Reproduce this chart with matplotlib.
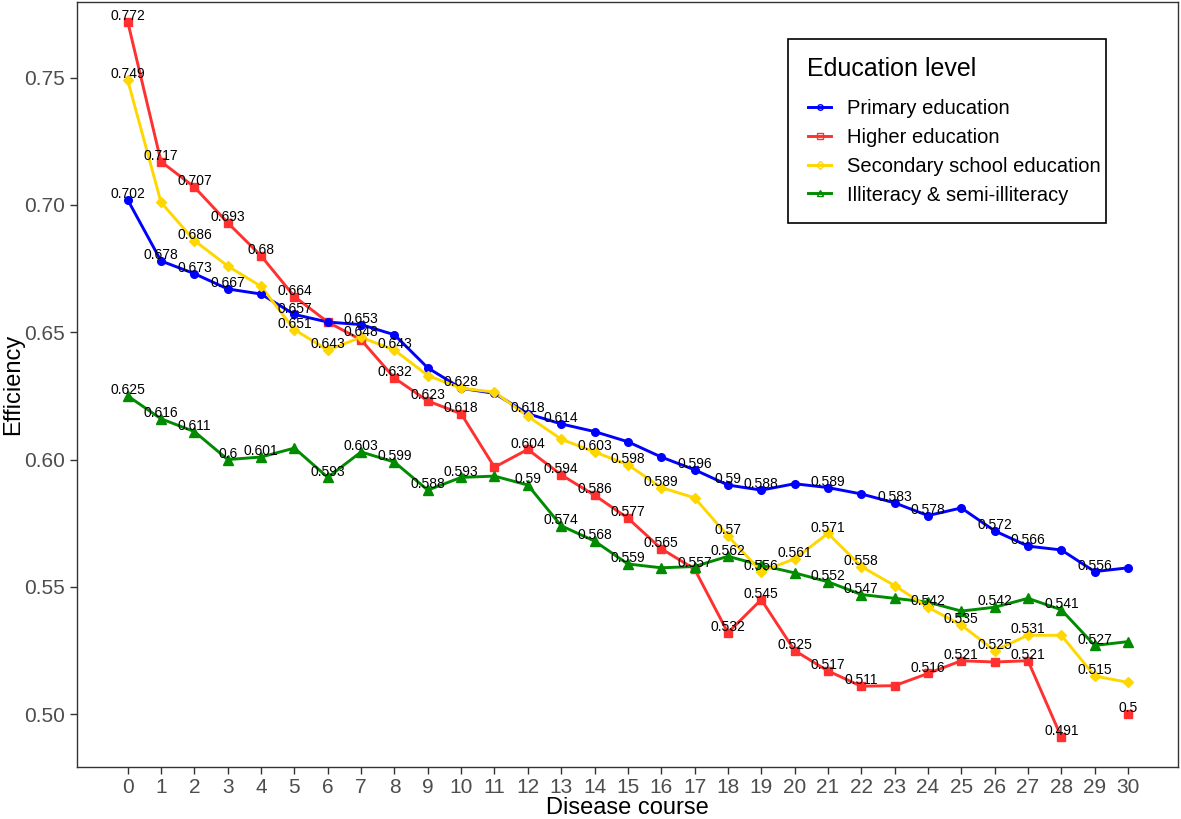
import numpy as np
import matplotlib
matplotlib.use("Agg")
import matplotlib.pyplot as plt
from matplotlib.lines import Line2D
from matplotlib.patches import Rectangle

plt.rcParams['font.family'] = ['Liberation Sans', 'DejaVu Sans']

# disease course 0..30
course = list(range(31))

primary = [0.702, 0.678, 0.673, 0.667, 0.665, 0.657, 0.654, 0.653, 0.649, 0.636,
           0.628, 0.626, 0.618, 0.614, 0.611, 0.607, 0.601, 0.596, 0.590, 0.588,
           0.5905, 0.589, 0.5865, 0.583, 0.578, 0.581, 0.572, 0.566, 0.5645, 0.556,
           0.5575]
higher = [0.772, 0.717, 0.707, 0.693, 0.680, 0.664, 0.654, 0.647, 0.632, 0.623,
          0.618, 0.597, 0.604, 0.594, 0.586, 0.577, 0.565, 0.557, 0.532, 0.545,
          0.525, 0.517, 0.511, 0.5112, 0.516, 0.521, 0.5205, 0.521, 0.491, np.nan,
          0.500]
secondary = [0.749, 0.701, 0.686, 0.676, 0.668, 0.651, 0.643, 0.648, 0.643, 0.633,
             0.628, 0.6265, 0.617, 0.608, 0.603, 0.598, 0.589, 0.585, 0.570, 0.556,
             0.561, 0.571, 0.558, 0.5505, 0.542, 0.535, 0.525, 0.531, 0.531, 0.515,
             0.5125]
illiteracy = [0.625, 0.616, 0.611, 0.600, 0.601, 0.6045, 0.593, 0.603, 0.599, 0.588,
              0.593, 0.5935, 0.590, 0.574, 0.568, 0.559, 0.5575, 0.558, 0.562, 0.5585,
              0.5555, 0.552, 0.547, 0.5455, 0.544, 0.5405, 0.542, 0.5455, 0.541, 0.527,
              0.5285]

# which points carry a value label
primary_lab = [0, 1, 2, 3, 5, 7, 10, 12, 13, 17, 18, 19, 21, 23, 24, 26, 27, 29]
higher_lab = [0, 1, 2, 3, 4, 5, 8, 9, 10, 12, 13, 14, 15, 16, 17, 18, 19, 20, 21,
              22, 24, 25, 27, 28, 30]
secondary_lab = [0, 2, 5, 6, 7, 8, 14, 15, 16, 18, 19, 20, 21, 22, 24, 25, 26, 27, 29]
illiteracy_lab = [0, 1, 2, 3, 4, 6, 7, 8, 9, 10, 12, 13, 14, 15, 18, 21, 22, 26, 28, 29]

names = ["Primary education", "Higher education", "Secondary school education",
         "Illiteracy & semi-illiteracy"]
colors = ["#0000FF", "#FF3030", "#FFD700", "#008B00"]
markers = ["o", "s", "D", "^"]
msizes = [5.5, 5.5, 5.5, 6.5]
series = [primary, higher, secondary, illiteracy]
labels = [primary_lab, higher_lab, secondary_lab, illiteracy_lab]

# ggplot draws groups in alphabetical order
draw_order = [1, 3, 0, 2]

fig = plt.figure(figsize=(11.81, 8.19), dpi=100)
ax = fig.add_axes([0.0652, 0.0639, 0.9323, 0.9337])

x = np.array(course)
for k in draw_order:
    ax.plot(x, series[k], color=colors[k], lw=2.1, zorder=2, solid_capstyle='butt')
for k in draw_order:
    ax.plot(x, series[k], ls='none', marker=markers[k], ms=msizes[k],
            color=colors[k], mec=colors[k], zorder=3)
for k in draw_order:
    for i in labels[k]:
        v = series[k][i]
        ax.annotate(f"{round(v, 3):g}", (x[i], v), xytext=(0, 1.3),
                    textcoords='offset points', ha='center', va='baseline',
                    fontsize=10, color='black', zorder=4)

ax.set_xlim(-1.52, 31.5)
ax.set_ylim(0.4794, 0.7797)
ax.set_xticks(course)
ax.set_yticks([0.50, 0.55, 0.60, 0.65, 0.70, 0.75])
ax.set_yticklabels(["0.50", "0.55", "0.60", "0.65", "0.70", "0.75"])
ax.tick_params(axis='both', labelsize=15, labelcolor='#4D4D4D', color='#333333',
               length=5, width=1)
for s in ax.spines.values():
    s.set_color('#333333')
    s.set_linewidth(1.0)

ax.set_xlabel("Disease course", fontsize=17, labelpad=0)
ax.set_ylabel("Efficiency", fontsize=17, labelpad=0)

# legend: frame, title and entries placed separately
ax.add_patch(Rectangle((0.6458, 0.7110), 0.2888, 0.2406, transform=ax.transAxes,
                       fill=True, facecolor='white', edgecolor='black', lw=1.2,
                       zorder=5))
ax.text(0.6630, 0.9124, "Education level", transform=ax.transAxes, fontsize=18,
        ha='left', va='center', zorder=6)
handles = [Line2D([], [], color=colors[k], lw=2.1, marker=markers[k], ms=4,
                  mfc='none', mec=colors[k], mew=1.0) for k in range(4)]
leg = ax.legend(handles, names, loc='upper left', bbox_to_anchor=(0.6640, 0.8732),
                fontsize=14.5, frameon=False, handlelength=1.15, handletextpad=0.8,
                labelspacing=0.49, borderpad=0, borderaxespad=0)
leg.set_zorder(6)

fig.savefig("out.png", dpi=100)
